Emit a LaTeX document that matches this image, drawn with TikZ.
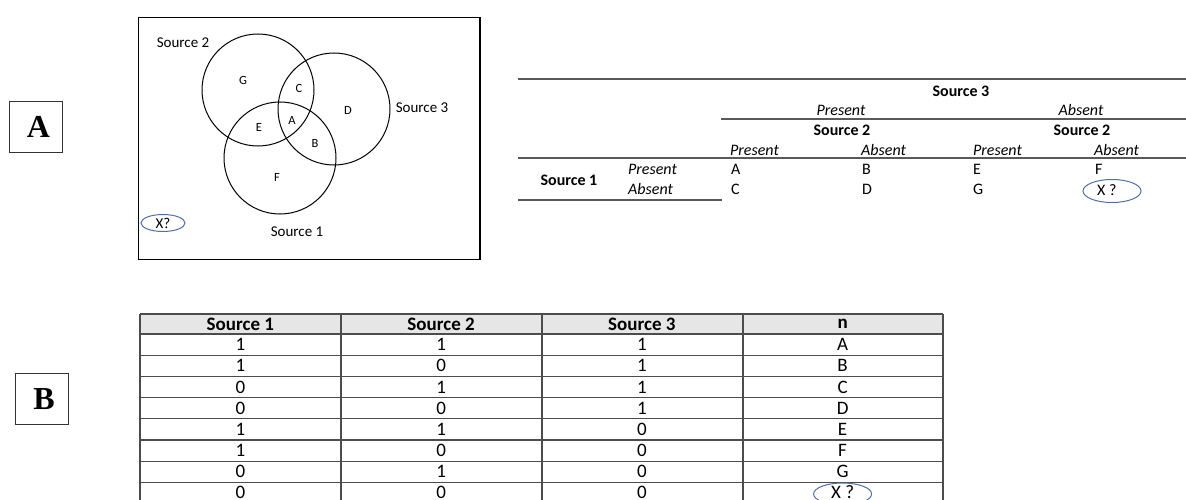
\documentclass[tikz,border=0pt]{standalone}
\usepackage{fontspec}
\setmainfont{Carlito}
\newfontfamily\panelfont{Liberation Serif}
\usepackage{xcolor}
\usetikzlibrary{shapes.geometric}
\definecolor{xblue}{RGB}{79,110,170}
\definecolor{hdgray}{RGB}{230,230,230}

\begin{document}
\begin{tikzpicture}[x=1pt,y=-1pt,
  every node/.style={inner sep=0pt},
  panel/.style={draw=black!80,line width=1.1pt,minimum width=53,minimum height=51,
    font=\panelfont\fontsize{32}{32}\selectfont\bfseries},
  venn/.style={line width=1pt},
  vlab/.style={font=\fontsize{15}{17}\selectfont},
  vlet/.style={font=\fontsize{12.5}{14}\selectfont},
  hd/.style={font=\fontsize{16}{18}\selectfont\bfseries},
  it/.style={font=\fontsize{16}{18}\selectfont\itshape,anchor=west},
  cell/.style={font=\fontsize{16}{18}\selectfont,anchor=west},
  rule/.style={line width=1.2pt,black!65},
  grid/.style={line width=1.1pt,black!70},
  th/.style={font=\fontsize{19}{21}\selectfont\bfseries},
  td/.style={font=\fontsize{19}{21}\selectfont},
  xq/.style={ellipse,draw=xblue,line width=1pt,inner sep=0pt}]
\useasboundingbox (0,0) rectangle (1186,500);

% panel labels
\node[panel] (labA) at (36,127) {\hspace*{5pt}A};
\node[panel] (labB) at (42,399) {\hspace*{4pt}B};

% Venn diagram
\draw[line width=0.9pt] (138,17) rectangle (480,259);
\draw[line width=2pt] (480,17) -- (480,259);
\coordinate (c2) at (258,90);
\coordinate (c3) at (334,109);
\coordinate (c1) at (280,158);
\foreach \c in {c1,c2,c3}
  \draw[venn] (\c) circle (56);
\node[vlab] (v2) at (183,43) {Source 2};
\node[vlab] (v3) at (422,108) {Source 3};
\node[vlab] (v1) at (297,232) {Source 1};
\foreach \t/\x/\y in {G/243/80,C/299/88,D/348/110,A/292/120,E/259/127,B/315/143,F/277/177}
  \node[vlet] (r\t) at (\x,\y) {\t};
\node[xq,vlab,minimum width=44,minimum height=17] (vx) at (163,223) {X?};

% 2x2x2 table
\draw[rule] (518,79) -- (1186,79);
\node[hd] (s3) at (961,91) {Source 3};
\node[it,anchor=center] (p3) at (841,110) {Present};
\node[it,anchor=center] (a3) at (1081,110) {Absent};
\draw[rule] (721,119) -- (1186,119);
\node[hd] (s2p) at (842,130) {Source 2};
\node[hd] (s2a) at (1082,130) {Source 2};
\foreach \x/\t [count=\i] in {730/Present,861/Absent,973/Present,1094/Absent}
  \node[it] (h\i) at (\x,150) {\t};
\draw[rule] (518,158) -- (1186,158);
\node[hd] (s1) at (569,180) {Source 1};
\node[it] (s1p) at (628,169) {Present};
\node[it] (s1a) at (628,189) {Absent};
\foreach \x/\a/\b [count=\i] in {731/A/C,862/B/D,973/E/G}{
  \node[cell] (p\i) at (\x,169) {\a};
  \node[cell] (q\i) at (\x,189) {\b};
}
\node[cell] (p4) at (1095,169) {F};
\node[cell] (q4) at (1097,190) {X ?};
\node[xq,minimum width=58,minimum height=23] (xq4) at (1112,191) {};
\draw[rule] (518,200) -- (722,200);

% capture history table
\fill[hdgray] (140,314) rectangle (943,334);
\foreach \r in {0,...,8}
  \draw[grid] (140,{334+21.2*\r}) -- (943,{334+21.2*\r});
\draw[grid] (140,314) -- (943,314);
\foreach \x in {140,341,542,743,943}
  \draw[grid] (\x,314) -- (\x,505);
\foreach \t [count=\i] in {Source 1,Source 2,Source 3,n}
  \node[th] (t\i) at ({140+200.75*(\i-0.5)},324) {\t};
\foreach \a/\b/\c/\n [count=\r] in {1/1/1/A,1/0/1/B,0/1/1/C,0/0/1/D,1/1/0/E,1/0/0/F,0/1/0/G}{
  \node[td] (a\r) at (240.4,{334+21.2*(\r-0.5)}) {\a};
  \node[td] (b\r) at (441.1,{334+21.2*(\r-0.5)}) {\b};
  \node[td] (c\r) at (641.9,{334+21.2*(\r-0.5)}) {\c};
  \node[td] (n\r) at (842.6,{334+21.2*(\r-0.5)}) {\n};
}
% last row, cut by the page edge
\node[td] (a8) at (240.4,492) {0};
\node[td] (b8) at (441.1,492) {0};
\node[td] (c8) at (641.9,492) {0};
\node[td] (n8) at (842.6,492) {X ?};
\node[xq,minimum width=58,minimum height=22] (xn) at (842.6,494) {};
\end{tikzpicture}
\end{document}
